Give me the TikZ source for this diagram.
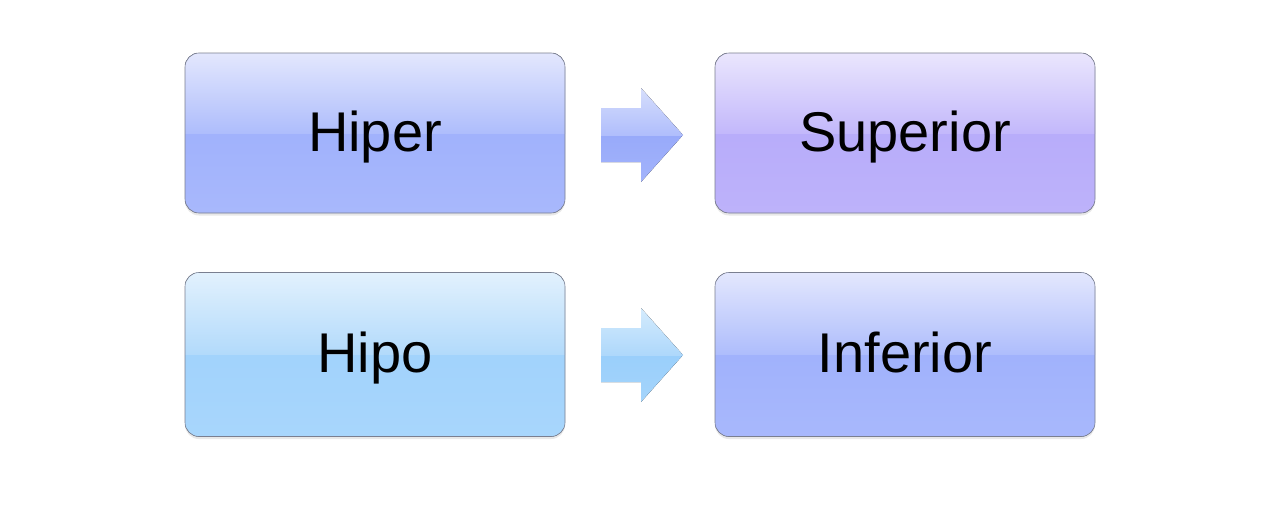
\documentclass[tikz,border=0pt]{standalone}
\usepackage{fontspec}
\setmainfont{Liberation Sans}
\usetikzlibrary{shadows}
\definecolor{hA}{HTML}{E3E7FD}
\definecolor{hB}{HTML}{AEBDFC}
\definecolor{hC}{HTML}{99ACFB}
\definecolor{hD}{HTML}{A8B8FC}
\definecolor{sA}{HTML}{EAE6FD}
\definecolor{sB}{HTML}{C3B8FB}
\definecolor{sC}{HTML}{B3A7F9}
\definecolor{sD}{HTML}{BDB2FA}
\definecolor{pA}{HTML}{E2F1FD}
\definecolor{pB}{HTML}{B2DAFB}
\definecolor{pC}{HTML}{9BCFFB}
\definecolor{pD}{HTML}{A8D6FC}
\definecolor{aA}{HTML}{D6DEFC}
\definecolor{aB}{HTML}{B0BEFC}
\definecolor{aC}{HTML}{98AAFA}
\definecolor{aD}{HTML}{A2B3FB}
\definecolor{bA}{HTML}{D4EBFD}
\definecolor{bB}{HTML}{AED8FB}
\definecolor{bC}{HTML}{9ACFFB}
\definecolor{bD}{HTML}{A4D4FB}
\definecolor{edge}{HTML}{7A7F90}
\tikzset{
  glossbox/.style n args={4}{
    draw=edge, line width=0.6pt, rounded corners=14pt,
    minimum width=380pt, inner sep=0pt,
    text height=36pt, text depth=0pt,
    font=\fontsize{56}{60}\selectfont, text=black,
    drop shadow={opacity=0.18, shadow xshift=0pt, shadow yshift=-2.5pt},
    path picture={
      \fill[sharp corners, top color=#3, bottom color=#4]
        (path picture bounding box.north west) rectangle (path picture bounding box.south east);
      \fill[sharp corners, top color=#1, bottom color=#2]
        (path picture bounding box.north west) rectangle (path picture bounding box.east);
    }
  }
}
\newcommand\glossarrow[5]{%
  \begin{scope}[shift={#1}]
    \path[clip] (0,-27) -- (40,-27) -- (40,-47) -- (82,0) -- (40,47) -- (40,27) -- (0,27) -- cycle;
    \fill[top color=#4, bottom color=#5] (0,0) rectangle (82,47);
    \fill[top color=#2, bottom color=#3] (0,-47) rectangle (82,0);
  \end{scope}}
\begin{document}
\begin{tikzpicture}[x=1pt,y=-1pt]
\useasboundingbox[fill=white] (0,0) rectangle (1280,514);
\node[glossbox={hA}{hB}{hC}{hD}, minimum height=160pt] (hiper) at (375,133) {Hiper};
\node[glossbox={sA}{sB}{sC}{sD}, minimum height=160pt] (superior) at (905,133) {Superior};
\node[glossbox={pA}{pB}{pC}{pD}, minimum height=164pt] (hipo) at (375,354.5) {Hipo};
\node[glossbox={hA}{hB}{hC}{hD}, minimum height=164pt] (inferior) at (905,354.5) {Inferior};
\coordinate (arrowtop) at (601,135);
\coordinate (arrowbot) at (601,355);
\glossarrow{(arrowtop)}{aA}{aB}{aC}{aD}
\glossarrow{(arrowbot)}{bA}{bB}{bC}{bD}
\end{tikzpicture}
\end{document}
